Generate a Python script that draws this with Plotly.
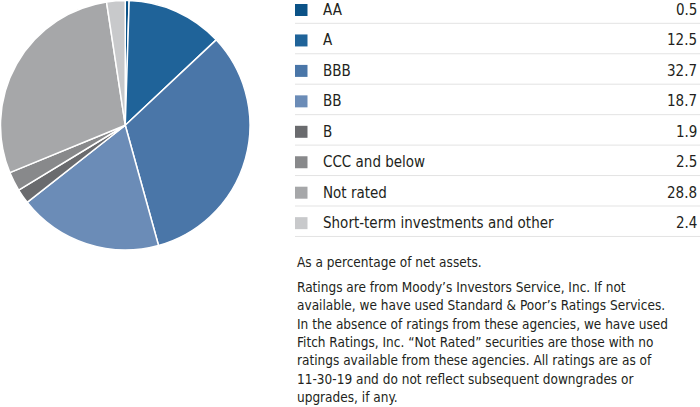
import plotly.graph_objects as go

W, H = 700, 407

categories = ["AA", "A", "BBB", "BB", "B", "CCC and below", "Not rated",
              "Short-term investments and other"]
values = [0.5, 12.5, 32.7, 18.7, 1.9, 2.5, 28.8, 2.4]
value_labels = ["0.5", "12.5", "32.7", "18.7", "1.9", "2.5", "28.8", "2.4"]
colors = ["#0b5287", "#1f6399", "#4a76a8", "#6b8cb7", "#6a6b6e",
          "#88898b", "#a6a7a9", "#c8c9cb"]

note_lines = [
    "Ratings are from Moody\u2019s Investors Service, Inc. If not",
    "available, we have used Standard & Poor\u2019s Ratings Services.",
    "In the absence of ratings from these agencies, we have used",
    "Fitch Ratings, Inc. \u201cNot Rated\u201d securities are those with no",
    "ratings available from these agencies. All ratings are as of",
    "11-30-19 and do not reflect subsequent downgrades or",
    "upgrades, if any.",
]
note_head = "As a percentage of net assets."

FONT = "Liberation Sans Narrow, DejaVu Sans Condensed, Roboto, sans-serif"
TXT = "#231f20"


def px(x):
    return x / W


def py(y):
    return 1 - y / H


fig = go.Figure()
fig.add_trace(go.Pie(
    labels=categories, values=values, sort=False, direction="clockwise",
    rotation=0, textinfo="none", hoverinfo="label+value",
    marker=dict(colors=colors, line=dict(color="white", width=1.5)),
    domain=dict(x=[px(0.5), px(250)], y=[py(250), py(0.5)]),
    showlegend=False,
))

shapes = []
annotations = []
row0, step = 10.0, 30.45
for i, (cat, lab, col) in enumerate(zip(categories, value_labels, colors)):
    yc = row0 + step * i
    shapes.append(dict(type="rect", xref="paper", yref="paper",
                       x0=px(295), x1=px(307.5), y0=py(yc + 6), y1=py(yc - 6),
                       fillcolor=col, line=dict(width=0)))
    shapes.append(dict(type="line", xref="paper", yref="paper",
                       x0=px(295), x1=px(700), y0=py(yc + 13.3), y1=py(yc + 13.3),
                       line=dict(color="#e3e3e3", width=1)))
    annotations.append(dict(x=px(321), y=py(yc), xref="paper", yref="paper",
                            text=cat, showarrow=False, xanchor="left",
                            yanchor="middle", font=dict(family=FONT, size=15, color=TXT)))
    annotations.append(dict(x=px(699), y=py(yc), xref="paper", yref="paper",
                            text=lab, showarrow=False, xanchor="right",
                            yanchor="middle", font=dict(family=FONT, size=15, color=TXT)))

annotations.append(dict(x=px(295), y=py(262), xref="paper", yref="paper",
                        text=note_head, showarrow=False, xanchor="left",
                        yanchor="middle", font=dict(family=FONT, size=13.5, color=TXT)))
for j, line in enumerate(note_lines):
    annotations.append(dict(x=px(295), y=py(287 + 18.3 * j), xref="paper", yref="paper",
                            text=line, showarrow=False, xanchor="left",
                            yanchor="middle", font=dict(family=FONT, size=13.5, color=TXT)))

fig.update_layout(width=W, height=H, margin=dict(l=0, r=0, t=0, b=0),
                  paper_bgcolor="white", plot_bgcolor="white",
                  shapes=shapes, annotations=annotations)
fig.write_html("out.html", config={"displayModeBar": False},
               post_script="document.body.style.margin='0';document.body.style.padding='0';")
